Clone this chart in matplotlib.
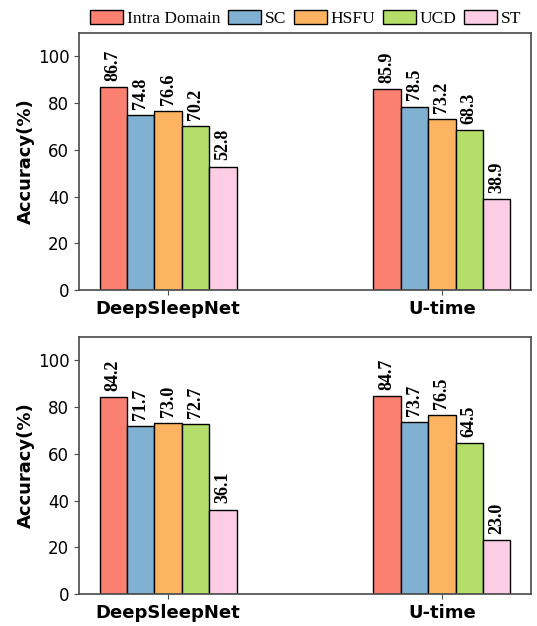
import matplotlib
matplotlib.use("Agg")
import matplotlib.pyplot as plt
import numpy as np

models = ["DeepSleepNet", "U-time"]
methods = ["Intra Domain", "SC", "HSFU", "UCD", "ST"]
colors = ["#FB8072", "#80B1D3", "#FDB462", "#B3DE69", "#FCCDE5"]

# accuracy per method, one value per model
top_acc = {
    "Intra Domain": [86.7, 85.9],
    "SC": [74.8, 78.5],
    "HSFU": [76.6, 73.2],
    "UCD": [70.2, 68.3],
    "ST": [52.8, 38.9],
}
bottom_acc = {
    "Intra Domain": [84.2, 84.7],
    "SC": [71.7, 73.7],
    "HSFU": [73.0, 76.5],
    "UCD": [72.7, 64.5],
    "ST": [36.1, 23.0],
}

W, H = 537, 626
fig = plt.figure(figsize=(W / 100, H / 100), dpi=100)
ax_top = fig.add_axes([79 / W, 1 - 290 / H, 452 / W, 257 / H])
ax_bot = fig.add_axes([79 / W, 1 - 594 / H, 452 / W, 257 / H])

serif = "Liberation Serif"
spine_c = "#4a4a4a"
width = 0.1
x = np.arange(len(models))


def draw(ax, data):
    handles = []
    for i, m in enumerate(methods):
        pos = x + (i - 2) * width
        bars = ax.bar(pos, data[m], width, color=colors[i], edgecolor="black",
                      linewidth=1.0, label=m)
        handles.append(bars)
        for b, v in zip(bars, data[m]):
            ax.annotate(f"{v:.1f}", (b.get_x() + b.get_width() / 2, v),
                        xytext=(0, 4.5), textcoords="offset points",
                        rotation=90, ha="center", va="bottom",
                        fontfamily=serif, fontweight="bold", fontsize=13)
    ax.set_ylim(0, 110)
    ax.set_yticks([0, 20, 40, 60, 80, 100])
    ax.set_xticks(x)
    ax.set_xticklabels(models, fontweight="bold", fontsize=13)
    ax.set_ylabel("Accuracy(%)", fontweight="bold", fontsize=13, labelpad=2)
    ax.tick_params(axis="y", labelsize=12, color=spine_c)
    ax.tick_params(axis="x", color=spine_c)
    for s in ax.spines.values():
        s.set_color(spine_c)
        s.set_linewidth(1.2)
    return handles


handles = draw(ax_top, top_acc)
draw(ax_bot, bottom_acc)

fig.legend(handles, methods, loc="upper right", bbox_to_anchor=(531 / W, 1.0),
           ncol=5, frameon=False, prop={"family": serif, "size": 12.5},
           handlelength=1.9, handleheight=0.9, handletextpad=0.25,
           columnspacing=0.4, borderaxespad=0.15)

fig.savefig("out.png", dpi=100)
